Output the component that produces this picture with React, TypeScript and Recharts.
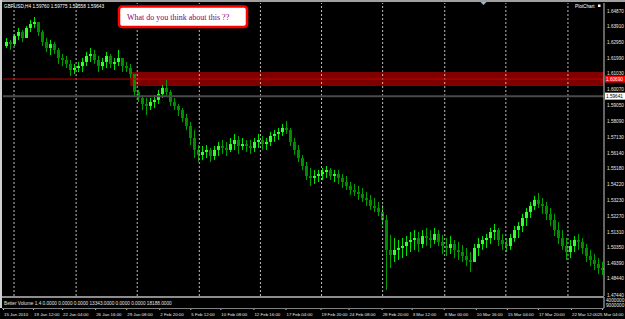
import React from 'react';
import { ComposedChart, Bar, XAxis, YAxis, ReferenceLine, ReferenceArea } from 'recharts';

// GBPUSD H4, one entry per bar (each bar here stands for a pair of H4 bars)
const highs = [
  1.6321, 1.6309, 1.6346, 1.6383, 1.637, 1.6395, 1.6432, 1.645, 1.6419, 1.637,
  1.6321, 1.6309, 1.6297, 1.626, 1.6223, 1.6211, 1.6186, 1.6162, 1.6174, 1.6198,
  1.6235, 1.626, 1.6248, 1.6211, 1.6198, 1.6235, 1.6223, 1.6198, 1.6248, 1.6186,
  1.6174, 1.6162, 1.61, 1.6002, 1.5971, 1.5953, 1.5953, 1.5971, 1.6002, 1.6033,
  1.6063, 1.6002, 1.5953, 1.5916, 1.5891, 1.5855, 1.5805, 1.5756, 1.5664, 1.5658,
  1.5664, 1.5646, 1.5658, 1.5683, 1.5695, 1.5683, 1.5707, 1.5732, 1.572, 1.5707,
  1.5695, 1.5695, 1.5707, 1.5732, 1.572, 1.5707, 1.5744, 1.5756, 1.5769, 1.5793,
  1.5812, 1.5769, 1.5707, 1.5664, 1.5603, 1.556, 1.5523, 1.5511, 1.5511, 1.5523,
  1.5535, 1.5523, 1.5511, 1.5511, 1.5486, 1.5474, 1.5437, 1.5425, 1.5413, 1.54,
  1.5376, 1.5357, 1.5339, 1.5314, 1.5296, 1.5234, 1.5112, 1.5093, 1.5081, 1.5093,
  1.5105, 1.513, 1.5142, 1.513, 1.5142, 1.5155, 1.5142, 1.5155, 1.5142, 1.5112,
  1.5093, 1.5105, 1.5081, 1.5069, 1.505, 1.5032, 1.5007, 1.5056, 1.5093, 1.5105,
  1.5118, 1.5155, 1.5179, 1.5155, 1.5118, 1.5093, 1.5118, 1.5167, 1.5191, 1.5241,
  1.5277, 1.5314, 1.5351, 1.537, 1.5339, 1.5314, 1.5277, 1.5241, 1.5191, 1.5142,
  1.5093, 1.5081, 1.5105, 1.5118, 1.5093, 1.5056, 1.502, 1.4995, 1.497, 1.4946,
];
const lows = [
  1.626, 1.6248, 1.6272, 1.6309, 1.6297, 1.6321, 1.6358, 1.6383, 1.6334, 1.6272,
  1.6235, 1.6217, 1.6223, 1.6162, 1.6149, 1.6137, 1.6088, 1.61, 1.6112, 1.6112,
  1.6149, 1.6174, 1.6162, 1.6112, 1.6125, 1.6137, 1.6137, 1.6125, 1.6149, 1.6112,
  1.6112, 1.6076, 1.5965, 1.5928, 1.5879, 1.5848, 1.5879, 1.5891, 1.5916, 1.5953,
  1.5965, 1.5904, 1.5879, 1.5842, 1.5805, 1.5756, 1.5664, 1.5584, 1.556, 1.5572,
  1.5584, 1.556, 1.5572, 1.5597, 1.5609, 1.5597, 1.5621, 1.5634, 1.5609, 1.5634,
  1.5621, 1.5609, 1.5621, 1.5646, 1.5634, 1.5634, 1.5658, 1.5683, 1.5695, 1.572,
  1.5732, 1.5658, 1.5603, 1.556, 1.5511, 1.5449, 1.5413, 1.5425, 1.5437, 1.5449,
  1.5462, 1.5449, 1.5437, 1.5425, 1.54, 1.5388, 1.5357, 1.5351, 1.5327, 1.5314,
  1.529, 1.5265, 1.5253, 1.5228, 1.5173, 1.4774, 1.4909, 1.4946, 1.4958, 1.497,
  1.4983, 1.5007, 1.502, 1.5007, 1.5032, 1.5044, 1.5032, 1.5056, 1.5044, 1.4995,
  1.4983, 1.4995, 1.497, 1.4958, 1.4946, 1.4921, 1.4884, 1.4946, 1.4983, 1.502,
  1.5032, 1.5056, 1.5081, 1.5044, 1.502, 1.5007, 1.502, 1.5069, 1.5093, 1.513,
  1.5167, 1.5216, 1.5265, 1.5277, 1.5241, 1.5204, 1.5167, 1.5105, 1.5056, 1.502,
  1.4958, 1.497, 1.5007, 1.502, 1.4995, 1.4946, 1.4921, 1.4897, 1.4872, 1.4866,
];
const closes = [
  1.6297, 1.6284, 1.6334, 1.6358, 1.6321, 1.6383, 1.6407, 1.6419, 1.6358, 1.6297,
  1.626, 1.6284, 1.6248, 1.6198, 1.6186, 1.6162, 1.6125, 1.6137, 1.6149, 1.6174,
  1.6211, 1.6223, 1.6186, 1.6149, 1.6174, 1.6211, 1.6162, 1.6174, 1.6198, 1.6149,
  1.6137, 1.61, 1.599, 1.5953, 1.5916, 1.5904, 1.5928, 1.5941, 1.5977, 1.6014,
  1.599, 1.5928, 1.5904, 1.5879, 1.583, 1.5781, 1.5707, 1.5634, 1.5603, 1.5621,
  1.5634, 1.5597, 1.5634, 1.5658, 1.5646, 1.5634, 1.567, 1.5695, 1.5658, 1.567,
  1.5658, 1.5646, 1.5683, 1.5695, 1.567, 1.5683, 1.572, 1.5732, 1.5744, 1.5769,
  1.5756, 1.5683, 1.5634, 1.5584, 1.5535, 1.5474, 1.5462, 1.5474, 1.5486, 1.5498,
  1.5511, 1.5474, 1.5486, 1.5462, 1.5437, 1.5413, 1.5388, 1.5376, 1.5363, 1.5339,
  1.5327, 1.529, 1.5277, 1.5253, 1.5204, 1.502, 1.4989, 1.502, 1.5032, 1.5044,
  1.5069, 1.5081, 1.5093, 1.5056, 1.5105, 1.5093, 1.5081, 1.5118, 1.5069, 1.5044,
  1.5032, 1.5056, 1.502, 1.5007, 1.4983, 1.4958, 1.4946, 1.5032, 1.5056, 1.5081,
  1.5093, 1.513, 1.5142, 1.5081, 1.5056, 1.5044, 1.5093, 1.5142, 1.5167, 1.5216,
  1.5253, 1.529, 1.5327, 1.5302, 1.529, 1.5241, 1.5204, 1.5142, 1.5093, 1.5044,
  1.5007, 1.5044, 1.5081, 1.5069, 1.5032, 1.4983, 1.4958, 1.4934, 1.4909, 1.4897,
];
const firstOpen = 1.6272;

const priceTicks = [
  1.6487, 1.6391, 1.6295, 1.6199, 1.6103, 1.6007, 1.5905, 1.5809, 1.5713, 1.5614,
  1.5518, 1.5422, 1.5323, 1.5227, 1.5131, 1.5035, 1.4939, 1.4844, 1.4744,
];

const timeLabels = [
  '15 Jan 2010', '19 Jan 12:00', '22 Jan 04:00', '26 Jan 16:00', '29 Jan 08:00',
  '2 Feb 20:00', '5 Feb 12:00', '10 Feb 08:00', '12 Feb 16:00', '17 Feb 04:00',
  '19 Feb 20:00', '24 Feb 08:00', '28 Feb 20:00', '3 Mar 12:00', '8 Mar 00:00',
  '10 Mar 16:00', '15 Mar 04:00', '17 Mar 20:00', '22 Mar 12:00', '25 Mar 04:00',
];
// bar index where each time label sits
const timeLabelBars = [
  0, 7.5, 14.75, 23, 30.75, 39, 46.75, 54.25, 62.5, 70.5,
  79.25, 86.25, 94.5, 102, 110, 118, 125.75, 133.5, 141.75, 149.5,
];
// weekly period separators (bar index)
const separatorBars = [2.75, 18.25, 33.5, 49, 64.25, 79.5, 94.75, 110.25, 125.5, 141];

const bidPrice = 1.59641;
const lineLevel = 1.6069;
const zoneTop = 1.6112;
const zoneBottom = 1.6026;
const zoneStartBar = 31.75;

const bars = highs.map((h, i) => ({
  idx: i + 0.5,
  o: i === 0 ? firstOpen : closes[i - 1],
  h,
  l: lows[i],
  c: closes[i],
}));

const FONT = '"Liberation Sans", Arial, sans-serif';
const SMALL = 4.7;

const Candle = (props: any) => {
  const { x, y, width, height, payload } = props;
  const { o, h, l, c } = payload;
  const top = Math.min(y, y + height);
  const ht = Math.abs(height);
  const cx = Math.round(x + width / 2) + 0.5;
  const span = h - l || 1;
  const py = (v: number) => top + ((h - v) / span) * ht;
  const bTop = py(Math.max(o, c));
  const bBot = py(Math.min(o, c));
  const up = c >= o;
  return (
    <g>
      <line x1={cx} x2={cx} y1={top} y2={top + ht} stroke={up ? '#00e600' : '#00a000'} strokeWidth={1} />
      <rect
        x={cx - 1.5}
        y={bTop}
        width={3}
        height={Math.max(1, bBot - bTop)}
        fill={up ? '#33ff33' : '#008c00'}
      />
    </g>
  );
};

const PriceTick = (props: any) => {
  const { x, y, payload } = props;
  return (
    <text x={x - 1} y={y + 1.7} fontSize={SMALL} fill="#e8e8e8" fontFamily={FONT}>
      {payload.value.toFixed(5)}
    </text>
  );
};

const TimeTick = (props: any) => {
  const { x, y, index } = props;
  const last = index === timeLabels.length - 1;
  return (
    <g>
      <line x1={x + 0.5} x2={x + 0.5} y1={y - 8} y2={y - 6} stroke="#c8c8c8" />
      <text
        x={last ? 623.5 : x + 1}
        y={y - 0.5}
        fontSize={4.4}
        fill="#e8e8e8"
        fontFamily={FONT}
        textAnchor={last ? 'end' : 'start'}
      >
        {timeLabels[index] ?? ''}
      </text>
    </g>
  );
};

const axisTag = (text: string, bg: string, fg: string) => (props: any) => {
  const { viewBox } = props;
  const x = viewBox.x + viewBox.width + 1;
  const y = viewBox.y;
  return (
    <g>
      <rect x={x} y={y - 3.5} width={20} height={7} fill={bg} />
      <text x={x + 1} y={y + 1.7} fontSize={SMALL} fill={fg} fontFamily={FONT}>
        {text}
      </text>
    </g>
  );
};

export default function App() {
  return (
    <div
      style={{
        position: 'absolute',
        left: 0,
        top: 0,
        width: 625,
        height: 319,
        background: '#000',
        overflow: 'hidden',
      }}
    >
      <div style={{ position: 'absolute', left: 0, top: 0 }}>
        <ComposedChart width={625} height={300} data={bars} margin={{ top: 3, right: 0, bottom: 4, left: 3 }}>
          <XAxis dataKey="idx" type="number" domain={[0, 150]} hide />
          <YAxis
            orientation="right"
            width={21}
            domain={[1.4737, 1.6536]}
            ticks={priceTicks}
            interval={0}
            allowDataOverflow
            axisLine={{ stroke: '#c8c8c8' }}
            tickLine={false}
            tickSize={2}
            tick={<PriceTick />}
          />
          {separatorBars.map((s) => (
            <ReferenceLine key={s} x={s} stroke="#bdbdbd" strokeDasharray="2 2" />
          ))}
          <ReferenceLine y={lineLevel} stroke="#c00000" label={axisTag('1.60690', '#ff0000', '#ffffff')} />
          <ReferenceArea
            x1={zoneStartBar}
            x2={150}
            y1={zoneBottom}
            y2={zoneTop}
            fill="#800000"
            fillOpacity={1}
            stroke="none"
          />
          <ReferenceLine y={bidPrice} stroke="#4a4a4a" strokeWidth={2} label={axisTag('1.59641', '#ffffff', '#000000')} />
          <Bar dataKey={(d: any) => [d.l, d.h]} shape={<Candle />} barSize={3} isAnimationActive={false} />
        </ComposedChart>
      </div>
      <div style={{ position: 'absolute', left: 0, top: 296 }}>
        <ComposedChart width={625} height={23} data={bars} margin={{ top: 1, right: 0, bottom: 0, left: 3 }}>
          <XAxis
            dataKey="idx"
            type="number"
            domain={[0, 150]}
            ticks={timeLabelBars}
            interval={0}
            height={11}
            axisLine={false}
            tickLine={false}
            tick={<TimeTick />}
          />
          <YAxis orientation="right" width={21} domain={[0, 1]} tick={false} tickLine={false} axisLine={{ stroke: '#c8c8c8' }} />
          {separatorBars.map((s) => (
            <ReferenceLine key={s} x={s} stroke="#bdbdbd" strokeDasharray="2 2" />
          ))}
        </ComposedChart>
      </div>
      <svg width={625} height={319} style={{ position: 'absolute', left: 0, top: 0, pointerEvents: 'none' }}>
        <rect x={0} y={0} width={625} height={2} fill="#a0a0a0" />
        <rect x={0} y={0} width={2} height={308} fill="#d0d0d0" />
        <rect x={2} y={296} width={602} height={2} fill="#8c8c8c" />
        <line x1={2} x2={604} y1={308.5} y2={308.5} stroke="#808080" />
        <text x={4} y={8} fontSize={SMALL} fill="#ffffff" fontFamily={FONT}>
          GBPUSD,H4 1.59760 1.59775 1.59558 1.59643
        </text>
        <path d="M480.5 2 L486.5 2 L483.5 5 Z" fill="#9fb6cd" />
        <text x={575} y={8} fontSize={SMALL} fill="#ffffff" fontFamily={FONT}>
          PlotChart
        </text>
        <rect x={598} y={4.5} width={2.5} height={2.5} fill="#ffffff" />
        <text x={4} y={304.5} fontSize={SMALL} fill="#e0e0e0" fontFamily={FONT}>
          Better Volume 1.4 0.0000 0.0000 0.0000 13343.0000 0.0000 0.0000 18188.0000
        </text>
        <text x={606} y={302} fontSize={SMALL} fill="#e8e8e8" fontFamily={FONT}>
          4000000
        </text>
        <text x={606} y={307} fontSize={SMALL} fill="#e8e8e8" fontFamily={FONT}>
          9000000
        </text>
        <rect x={119} y={6.5} width={128} height={20.5} rx={3} fill="#ffffff" stroke="#ff0000" strokeWidth={2.5} />
        <text x={127} y={19.5} fontSize={8} fill="#800080" fontFamily='"Liberation Serif", "Times New Roman", serif'>
          What do you think about this ??
        </text>
      </svg>
    </div>
  );
}
